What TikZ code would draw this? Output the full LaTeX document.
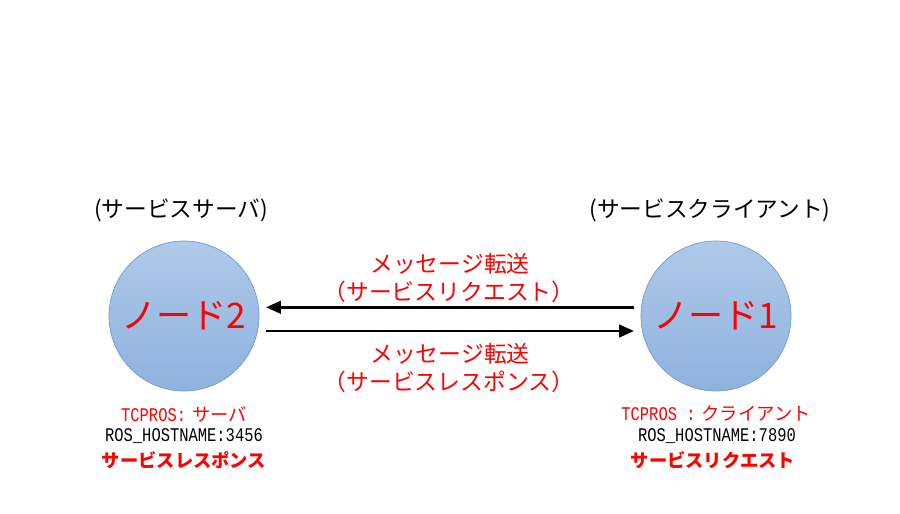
\documentclass[tikz,border=0pt]{standalone}
\usepackage{fontspec}
\usetikzlibrary{arrows.meta}
\newfontfamily\cjk{Noto Sans CJK JP}
\newfontfamily\monof[FakeStretch=0.8]{Liberation Mono}
\definecolor{ndtop}{HTML}{AFC9E8}
\definecolor{ndbot}{HTML}{8EB2DE}
\definecolor{ndline}{HTML}{6F9BD0}
\tikzstyle{nd}=[shape=circle, minimum size=3cm, inner sep=0, outer sep=0.14cm, draw=ndline, top color=ndtop, bottom color=ndbot, text=red, font=\cjk\fontsize{20}{24}\selectfont]
\tikzstyle{role}=[font=\cjk\fontsize{12.9}{15}\selectfont]
\tikzstyle{msg}=[text=red, font=\cjk\fontsize{13}{15}\selectfont]
\tikzstyle{info}=[font=\fontsize{10.4}{12}\selectfont, inner sep=0]
\tikzstyle{arr}=[line width=1.6pt, -{Triangle[length=0.3cm, width=0.25cm]}]

\begin{document}
\begin{tikzpicture}[x=0.02cm, y=-0.02cm]
\useasboundingbox (0,0) rectangle (900,514);
\node at (184,316) [nd](2){ノード2};
\node at (716,316) [nd](1){ノード1};
\node at (181,210) [role](r2){(サービスサーバ)};
\node at (710,210) [role](r1){(サービスクライアント)};
\node at (450,264) [msg](m1){メッセージ転送};
\node at (449,292) [msg](m1b){（サービスリクエスト）};
\node at (450,354) [msg](m2){メッセージ転送};
\node at (449,382) [msg](m2b){（サービスレスポンス）};
\draw[arr] ([yshift=0.174cm]1.west)--([yshift=0.174cm]2.east);
\draw[arr] ([yshift=-0.3cm]2.east)--([yshift=-0.3cm]1.west);
% TCPROS / hostname under each node
\node at (184,414) [info, text=red](t2){{\monof\fontsize{11}{12}\selectfont TCPROS:} {\cjk サーバ}};
\node at (184,436) [info](h2){\monof\fontsize{11}{12}\selectfont ROS\_HOSTNAME:3456};
\node at (184,460) [info, text=red](s2){\cjk\bfseries サービスレスポンス};
\node at (716,414) [info, text=red](t1){{\monof\fontsize{11}{12}\selectfont TCPROS :} {\cjk クライアント}};
\node at (717,436) [info](h1){\monof\fontsize{11}{12}\selectfont ROS\_HOSTNAME:7890};
\node at (713,460) [info, text=red](s1){\cjk\bfseries サービスリクエスト};
\end{tikzpicture}
\end{document}
